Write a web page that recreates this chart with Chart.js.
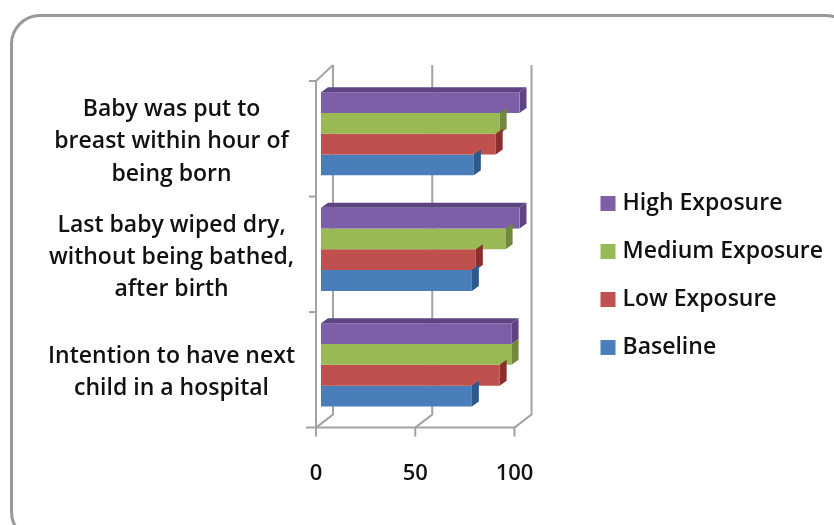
<!DOCTYPE html>
<html><head><meta charset="utf-8">
<script src="https://cdn.jsdelivr.net/npm/chart.js@4"></script>
<style>
html,body{margin:0;padding:0;background:#fff;overflow:hidden}
#frame{position:absolute;left:10px;top:14px;width:846px;height:528px;border:3px solid #999;border-radius:30px;box-sizing:border-box}
#wrap{position:absolute;left:0;top:0;width:834px;height:525px}
</style></head><body>
<div id="frame"></div>
<div id="wrap"><canvas id="c" width="834" height="525"></canvas></div>
<script>
const categories = [
  ["Baby was put to","breast within hour of","being born"],
  ["Last baby wiped dry,","without being bathed,","after birth"],
  ["Intention to have next","child in a hospital"]
];
const highExposure = [100, 100, 96];
const mediumExposure = [90, 93, 96];
const lowExposure = [88, 78, 90];
const baseline = [77, 76, 76];
const tickValues = [0, 50, 100];

const depth3d = {
  id: 'depth3d',
  afterLayout(chart) {
    const lg = chart.legend;
    lg.left = 605 - lg.options.labels.padding;
    lg.right = 834;
    lg.width = lg.right - lg.left;
    lg.top -= 25;
    lg.bottom -= 25;
  },
  beforeDatasetsDraw(chart) {
    const {ctx, chartArea:a, scales:{x}} = chart;
    const wallDx = 12, wallDy = -13, frontDx = -5, frontDy = 5;
    ctx.save();
    ctx.strokeStyle = '#a3a3a3';
    ctx.lineWidth = 2;
    tickValues.forEach(v => {
      const px = x.getPixelForValue(v);
      ctx.beginPath();
      ctx.moveTo(px + frontDx, a.bottom + frontDy + 9);
      ctx.lineTo(px + frontDx, a.bottom + frontDy);
      ctx.lineTo(px + wallDx, a.bottom + frontDy + wallDy);
      ctx.lineTo(px + wallDx, a.top + frontDy + wallDy - 3);
      ctx.stroke();
    });
    const left = x.getPixelForValue(0) + frontDx, right = x.getPixelForValue(100) + frontDx;
    ctx.beginPath();
    ctx.moveTo(left - 10, a.bottom + frontDy);
    ctx.lineTo(right, a.bottom + frontDy);
    ctx.moveTo(left, a.bottom + frontDy);
    ctx.lineTo(left, a.top + frontDy);
    ctx.lineTo(left + 17, a.top + frontDy - 16);
    ctx.stroke();
    const n = categories.length, step = (a.bottom - a.top) / n;
    for (let i = 0; i < n; i++) {
      const y = a.top + frontDy + i * step;
      ctx.beginPath();
      ctx.moveTo(left - 7, y);
      ctx.lineTo(left, y);
      ctx.stroke();
    }
    ctx.restore();
  },
  afterDatasetsDraw(chart) {
    const {ctx} = chart;
    const dx = 7, dy = -5;
    ctx.save();
    chart.data.datasets.forEach((ds, di) => {
      chart.getDatasetMeta(di).data.forEach(bar => {
        const {x, y, base, height} = bar;
        const t = y - height / 2, b = y + height / 2;
        ctx.fillStyle = ds.sideColor;
        ctx.beginPath();
        ctx.moveTo(x, t); ctx.lineTo(x + dx, t + dy); ctx.lineTo(x + dx, b + dy); ctx.lineTo(x, b);
        ctx.closePath(); ctx.fill();
        if (di === 0) {
          ctx.fillStyle = ds.topColor;
          ctx.beginPath();
          ctx.moveTo(base, t); ctx.lineTo(base + dx, t + dy); ctx.lineTo(x + dx, t + dy); ctx.lineTo(x, t);
          ctx.closePath(); ctx.fill();
        }
      });
    });
    ctx.restore();
  }
};

new Chart(document.getElementById('c'), {
  type: 'bar',
  data: {
    labels: categories,
    datasets: [
      {label:'High Exposure', data:highExposure, backgroundColor:'#7d5fa8', sideColor:'#5f4483', topColor:'#5f4483'},
      {label:'Medium Exposure', data:mediumExposure, backgroundColor:'#98b954', sideColor:'#71893c', topColor:'#71893c'},
      {label:'Low Exposure', data:lowExposure, backgroundColor:'#c0504d', sideColor:'#8c2f2c', topColor:'#8c2f2c'},
      {label:'Baseline', data:baseline, backgroundColor:'#4a7ebb', sideColor:'#2c5a8c', topColor:'#2c5a8c'}
    ]
  },
  plugins: [depth3d],
  options: {
    indexAxis: 'y',
    responsive: false,
    animation: false,
    devicePixelRatio: 1,
    layout: {padding: {top: 76, bottom: 0, left: 14, right: 146}},
    datasets: {bar: {categoryPercentage: 0.72, barPercentage: 1}},
    scales: {
      x: {
        min: 0, max: 100,
        afterBuildTicks(s){ s.ticks = tickValues.map(v => ({value:v})); },
        grid: {display:false, drawTicks:false},
        border: {display:false},
        ticks: {color:'#111', font:{family:'Open Sans', size:22, weight:'600'}, labelOffset:-5, padding:38, maxRotation:0}
      },
      y: {
        grid: {display:false, drawTicks:false},
        border: {display:false},
        ticks: {color:'#111', font:{family:'Open Sans', size:23, weight:'600', lineHeight:1.4}, padding:26, labelOffset:8, crossAlign:'center'},
        afterFit(s){ s.width = 307; }
      }
    },
    plugins: {
      tooltip: {enabled:false},
      legend: {
        position:'right',
        labels: {usePointStyle:true, pointStyle:'rect', boxWidth:6, boxHeight:15, padding:25, color:'#111', font:{family:'Open Sans', size:23, weight:'600'}}
      }
    }
  }
});
</script>
</body></html>
